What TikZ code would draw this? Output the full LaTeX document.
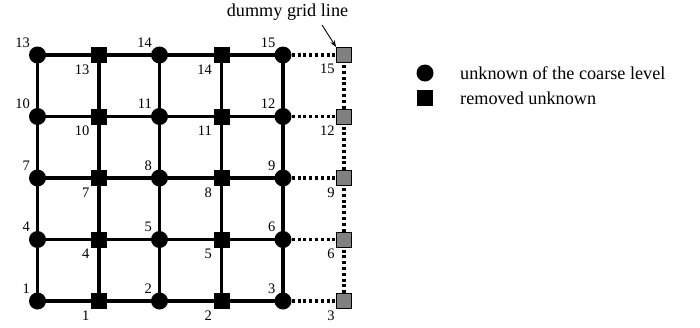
\documentclass[tikz,border=0pt]{standalone}
\usepackage{fontspec}
\setmainfont{Liberation Serif}
\usetikzlibrary{arrows.meta,backgrounds}
\begin{document}
\begin{tikzpicture}[x=1pt,y=-1pt,
  every node/.style={font=\fontsize{14.5}{16}\selectfont},
  bigtext/.style={font=\fontsize{18.2}{21}\selectfont},
  known/.style={circle,fill=black,minimum size=17pt,inner sep=0pt,
    label={[inner sep=1.3pt]north west:#1}},
  removed/.style={rectangle,fill=black,minimum size=16pt,inner sep=0pt,
    label={[inner sep=1.3pt]south west:#1}},
  dummy/.style={rectangle,fill=black!50,draw=black,line width=0.8pt,minimum size=15pt,inner sep=0pt,
    label={[inner sep=1.3pt]south west:#1}},
  gridline/.style={line width=3.2pt},
  dummyline/.style={line width=3.2pt,dash pattern=on 3pt off 2.8pt},
  legend/.style={bigtext,anchor=west,inner sep=0pt}]
\useasboundingbox (0,0) rectangle (700,327);
% grid of unknowns, rows numbered from the bottom
\foreach \r/\y in {1/301,2/239.5,3/178,4/116.5,5/55}{
  \pgfmathtruncatemacro{\na}{3*(\r-1)+1}
  \pgfmathtruncatemacro{\nb}{3*(\r-1)+2}
  \pgfmathtruncatemacro{\nc}{3*(\r-1)+3}
  \node[known=\na]   (a\r) at (37.5,\y) {};
  \node[removed=\na] (p\r) at (99,\y)   {};
  \node[known=\nb]   (b\r) at (159.5,\y) {};
  \node[removed=\nb] (q\r) at (221.5,\y) {};
  \node[known=\nc]   (c\r) at (283,\y)  {};
  \node[dummy=\nc]   (d\r) at (344,\y)  {};
}
\begin{scope}[on background layer]
  \foreach \r in {1,...,5}{
    \draw[gridline] (a\r.center) -- (c\r.center);
    \draw[dummyline] (c\r) -- (d\r);
  }
  \foreach \col in {a,p,b,q,c}{
    \draw[gridline] (\col1.center) -- (\col5.center);
  }
  \foreach \r/\s in {1/2,2/3,3/4,4/5}{
    \draw[dummyline] (d\r) -- (d\s);
  }
\end{scope}
% annotation of the dummy grid line
\node[bigtext,inner sep=0pt] (dl) at (287.5,12) {dummy grid line};
\coordinate (dlstart) at (322,25);
\draw[line width=0.9pt,-{Stealth[length=7pt,width=5pt]}] (dlstart) -- (d5.north west);
% legend
\node[circle,fill=black,minimum size=17pt,inner sep=0pt] (lk) at (425,73) {};
\node[rectangle,fill=black,minimum size=16pt,inner sep=0pt] (lr) at (425,98) {};
\node[legend] (lkt) at (460,73) {unknown of the coarse level};
\node[legend] (lrt) at (460,98) {removed unknown};
\end{tikzpicture}
\end{document}
